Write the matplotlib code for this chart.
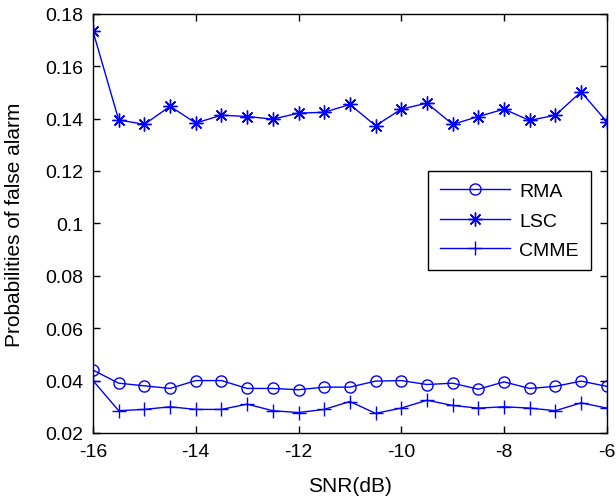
import matplotlib.pyplot as plt

plt.rcParams["font.family"] = ["Liberation Sans", "DejaVu Sans"]

# SNR axis
snr = [-16, -15.5, -15, -14.5, -14, -13.5, -13, -12.5, -12, -11.5, -11,
       -10.5, -10, -9.5, -9, -8.5, -8, -7.5, -7, -6.5, -6]

# false alarm probabilities
rma = [0.044, 0.039, 0.038, 0.037, 0.040, 0.040, 0.037, 0.037, 0.0365, 0.0375, 0.0375,
       0.0398, 0.040, 0.0385, 0.039, 0.0367, 0.0395, 0.037, 0.0378, 0.0398, 0.0378]
lsc = [0.1733, 0.1395, 0.1378, 0.1447, 0.1383, 0.1413, 0.1408, 0.1398, 0.1421, 0.1424, 0.1454,
       0.1373, 0.1436, 0.1459, 0.1378, 0.1408, 0.1436, 0.1393, 0.1413, 0.1502, 0.1388]
cmme = [0.040, 0.0285, 0.029, 0.030, 0.029, 0.029, 0.031, 0.0285, 0.0278, 0.029, 0.032,
        0.0275, 0.0295, 0.0325, 0.0305, 0.0295, 0.030, 0.0295, 0.0285, 0.0315, 0.0295]

xticks = [-16, -14, -12, -10, -8, -6]
yticks = [0.02, 0.04, 0.06, 0.08, 0.1, 0.12, 0.14, 0.16, 0.18]

fig = plt.figure(figsize=(6.16, 5.02), dpi=100)
ax = fig.add_axes([0.151, 0.1355, 0.834, 0.835])

blue = "#0000ff"
ax.plot(snr, rma, color=blue, lw=1.0, marker="o", markersize=8,
        markerfacecolor="none", markeredgewidth=1.0, label="RMA")
ax.plot(snr, lsc, color=blue, lw=1.0, marker=(8, 2, 0), markersize=10,
        markeredgewidth=1.0, label="LSC")
ax.plot(snr, cmme, color=blue, lw=1.0, marker="+", markersize=10,
        markeredgewidth=1.0, label="CMME")

ax.set_xlim(-16, -6)
ax.set_ylim(0.02, 0.18)
ax.set_xticks(xticks)
ax.set_xticklabels(["%g" % t for t in xticks])
ax.set_yticks(yticks)
ax.set_yticklabels(["%g" % t for t in yticks])
ax.tick_params(direction="in", length=5, width=1, top=True, right=True,
               labelsize=14, pad=7)
for s in ax.spines.values():
    s.set_linewidth(1.0)

ax.set_xlabel("SNR(dB)", fontsize=15, labelpad=12)
ax.set_ylabel("Probabilities of false alarm", fontsize=15, labelpad=15)

leg = ax.legend(loc="upper left", bbox_to_anchor=(0.652, 0.625), borderaxespad=0,
                fontsize=14, fancybox=False, edgecolor="black", framealpha=1,
                handlelength=3.6, handletextpad=0.5, labelspacing=0.6,
                borderpad=0.6)
leg.get_frame().set_linewidth(1.0)

fig.savefig("out.png", dpi=100)
